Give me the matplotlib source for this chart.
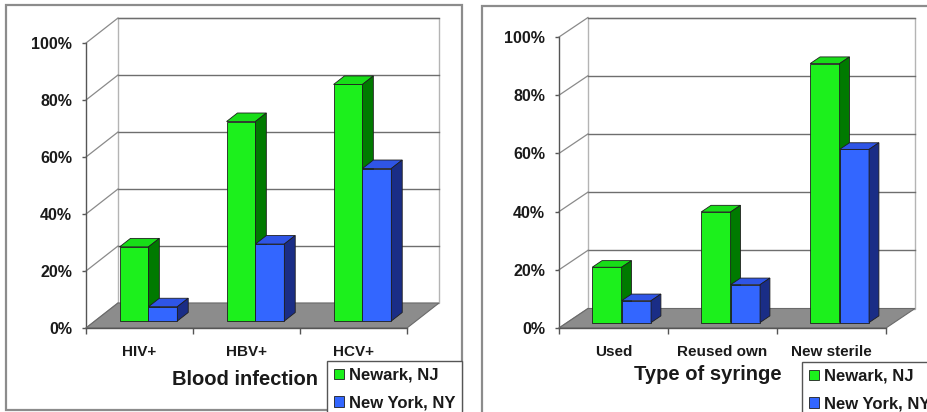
import matplotlib.pyplot as plt
from matplotlib.patches import Polygon, Rectangle

# ---- data ----
series_names = ["Newark, NJ", "New York, NY"]

infection_cats = ["HIV+", "HBV+", "HCV+"]
infection_newark = [26, 70, 83]
infection_newyork = [5, 27, 53.5]

syringe_cats = ["Used", "Reused own", "New sterile"]
syringe_newark = [19, 38, 89]
syringe_newyork = [7.5, 13, 59.5]

# colours: front, top, side
GREEN = ("#1cf01c", "#18dd18", "#007a00")
BLUE = ("#3366ff", "#2f55e6", "#1a2d86")
FLOOR = "#8c8c8c"
TXT = "#1a1a1a"

W, H, DPI = 928, 412, 100
plt.rcParams['font.family'] = ['Liberation Sans', 'DejaVu Sans']
plt.rcParams['font.weight'] = 'bold'

fig = plt.figure(figsize=(W / DPI, H / DPI), dpi=DPI)


def px_axes(x0, x1, y0, y1):
    # axes placed by pixel box (y0 = bottom pixel row, y1 = top)
    return fig.add_axes([x0 / W, 1 - y0 / H, (x1 - x0) / W, (y0 - y1) / H])


def bar3d(ax, x, width, value, dx, dy, f0, f1, colors):
    front, top, side = colors
    bx = x + f0 * dx
    by = f0 * dy
    ddx = (f1 - f0) * dx
    ddy = (f1 - f0) * dy
    ec = "#1e1e1e"
    ax.bar(bx, value, width=width, bottom=by, align='edge', color=front,
           edgecolor=ec, linewidth=0.6, zorder=5, clip_on=False)
    t = by + value
    ax.add_patch(Polygon([(bx, t), (bx + width, t), (bx + width + ddx, t + ddy),
                          (bx + ddx, t + ddy)], closed=True, fc=top, ec=ec,
                         lw=0.6, zorder=5, clip_on=False))
    ax.add_patch(Polygon([(bx + width, by), (bx + width, t),
                          (bx + width + ddx, t + ddy), (bx + width + ddx, by + ddy)],
                         closed=True, fc=side, ec=ec, lw=0.6, zorder=5, clip_on=False))


def panel(ax, cats, s1, s2, dx, dy, title, tx, ty, leg_xy):
    n = len(cats)
    ax.set_xlim(0, n)
    ax.set_ylim(0, 100)
    ax.patch.set_visible(False)
    for s in ['top', 'right', 'bottom']:
        ax.spines[s].set_visible(False)
    ax.spines['left'].set_color('#555555')
    ax.spines['left'].set_linewidth(1.0)

    # back wall and grid
    ax.add_patch(Rectangle((dx, dy), n, 100, fc='white', ec='#b4b4b4', lw=1.0,
                           zorder=1, clip_on=False))
    for v in range(20, 101, 20):
        ax.plot([dx, n + dx], [v + dy, v + dy], color='#6e6e6e', lw=1.0,
                zorder=2, clip_on=False)
    for v in range(0, 101, 20):
        ax.plot([0, dx], [v, v + dy], color='#8a8a8a', lw=0.9, zorder=2,
                clip_on=False)
    # floor
    ax.add_patch(Polygon([(0, 0), (n, 0), (n + dx, dy), (dx, dy)], closed=True,
                         fc=FLOOR, ec='#6a6a6a', lw=0.8, zorder=3, clip_on=False))
    ax.plot([0, n], [0, 0], color='#555555', lw=1.0, zorder=4, clip_on=False)

    f0, f1 = 0.28, 0.62
    for i in range(n):
        bar3d(ax, i + 0.23, 0.27, s1[i], dx, dy, f0, f1, GREEN)
        bar3d(ax, i + 0.50, 0.27, s2[i], dx, dy, f0, f1, BLUE)

    ax.set_yticks(range(0, 101, 20), [f"{v}%" for v in range(0, 101, 20)])
    ax.tick_params(axis='y', length=3, width=1.0, color='#555555', pad=7,
                   labelsize=11.5, labelcolor=TXT)
    ax.set_xticks([i + 0.5 for i in range(n)], cats)
    ax.set_xticks(range(n + 1), minor=True)
    ax.tick_params(axis='x', which='major', length=0, pad=12, labelsize=11,
                   labelcolor=TXT)
    ax.tick_params(axis='x', which='minor', length=4, width=1.0, color='#555555')

    ax.text(tx, ty, title, transform=ax.transAxes, ha='center', va='baseline',
            fontsize=14.5, fontweight='bold', color=TXT)

    handles = [Rectangle((0, 0), 1, 1, fc=GREEN[0], ec='#1e1e1e', lw=0.6),
               Rectangle((0, 0), 1, 1, fc=BLUE[0], ec='#1e1e1e', lw=0.6)]
    leg = fig.legend(handles, series_names, loc='upper left',
                     bbox_to_anchor=(leg_xy[0] / W, 1 - leg_xy[1] / H),
                     borderaxespad=0, fancybox=False, framealpha=1,
                     edgecolor='#555555', handlelength=0.6,
                     handleheight=0.6, handletextpad=0.3, labelspacing=0.75,
                     borderpad=0.4, prop={'weight': 'bold', 'size': 12})
    leg.get_frame().set_linewidth(1.0)
    for t in leg.get_texts():
        t.set_color(TXT)


# panel frames
for x0, y0, x1, y1 in [(6, 5, 462, 410), (482, 6, 940, 420)]:
    fig.patches.append(Rectangle((x0 / W, 1 - y1 / H), (x1 - x0) / W, (y1 - y0) / H,
                                 transform=fig.transFigure, fc='none',
                                 ec='#8c8c8c', lw=1.6, zorder=0))

ax1 = px_axes(86, 407, 328, 43)
panel(ax1, infection_cats, infection_newark, infection_newyork,
      32 / 107, 25 / 2.85, "Blood infection", 0.495, -0.20, (327, 361))

ax2 = px_axes(559, 886, 328, 37)
panel(ax2, syringe_cats, syringe_newark, syringe_newyork,
      29 / 109, 19.5 / 2.91, "Type of syringe", 0.456, -0.179, (802, 362))

fig.savefig("out.png", dpi=DPI)
